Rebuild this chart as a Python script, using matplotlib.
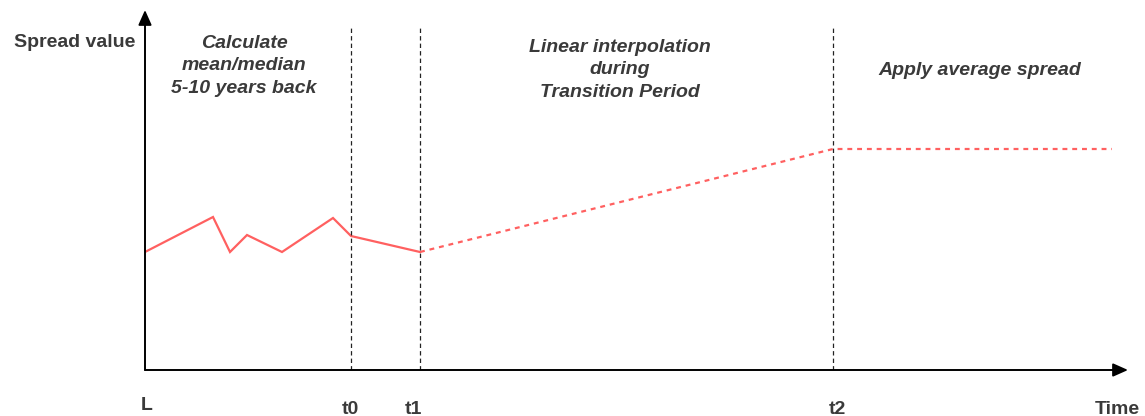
import matplotlib
matplotlib.use("Agg")
import matplotlib.pyplot as plt

# Data (time units, spread units)
hist_t = [0, 6.8, 8.5, 10.2, 13.7, 18.8, 20.6, 27.5]
hist_s = [11.8, 15.3, 11.8, 13.5, 11.8, 15.2, 13.4, 11.8]
proj_t = [27.5, 68.8, 96.7]
proj_s = [11.8, 22.1, 22.1]
marker_t = [20.6, 27.5, 68.8]
marker_labels = ["t0", "t1", "t2"]
region_texts = ["Calculate\nmean/median\n5-10 years back",
                "Linear interpolation\nduring\nTransition Period",
                "Apply average spread"]
region_x = [9.9, 47.5, 83.5]
region_y = [30.4, 30.0, 29.9]

plt.rcParams['font.family'] = ['Liberation Sans', 'DejaVu Sans']

fig = plt.figure(figsize=(11.45, 4.16), dpi=100)
ax = fig.add_axes([145/1145, 46/416, (1128-145)/1145, 360/416])
ax.set_xlim(0, 98.3)
ax.set_ylim(0, 36)
for s in ax.spines.values():
    s.set_visible(False)
ax.set_xticks([])
ax.set_yticks([])

red = "#ff6060"
ax.plot(hist_t, hist_s, color=red, lw=1.6, solid_joinstyle='miter')
ax.plot(proj_t, proj_s, color=red, lw=1.6, linestyle=(0, (2.2, 2.2)))

for t in marker_t:
    ax.plot([t, t], [0, 34.3], color="#222222", lw=0.9, linestyle=(0, (3.5, 2.5)))

# axes with arrows
ax.annotate("", xy=(1.0, 0), xytext=(0, 0), xycoords='axes fraction',
            arrowprops=dict(arrowstyle='-|>,head_length=0.9,head_width=0.4', color='black', lw=1.4,
                            shrinkA=0, shrinkB=0))
ax.annotate("", xy=(0, 1.0), xytext=(0, 0), xycoords='axes fraction',
            arrowprops=dict(arrowstyle='-|>,head_length=0.9,head_width=0.4', color='black', lw=1.4,
                            shrinkA=0, shrinkB=0))

tc = "#3a3a3a"
fs = 14
ax.text(-7.05, 32.7, "Spread value", ha='center', va='center', fontsize=fs, fontweight='bold',
        color=tc, clip_on=False)
ax.text(0.2, -3.6, "L", ha='center', va='center', fontsize=fs, fontweight='bold', color=tc, clip_on=False)
offs = [-0.1, -0.7, 0.4]
for t, lab, o in zip(marker_t, marker_labels, offs):
    ax.text(t + o, -3.9, lab, ha='center', va='center', fontsize=fs, fontweight='bold',
            color=tc, clip_on=False)
ax.text(97.2, -3.9, "Time", ha='center', va='center', fontsize=fs, fontweight='bold',
        color=tc, clip_on=False)

for x, y, txt in zip(region_x, region_y, region_texts):
    ax.text(x, y, txt, ha='center', va='center', fontsize=fs, style='italic', fontweight='bold',
            color=tc, linespacing=1.4, clip_on=False)

fig.savefig("out.png", dpi=100)
